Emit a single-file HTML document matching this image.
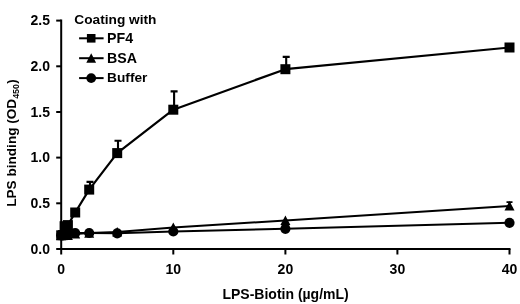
<!DOCTYPE html>
<html><head><meta charset="utf-8"><title>LPS binding</title>
<style>
html,body{margin:0;padding:0;background:#fff;}
svg{display:block;}
text{font-family:"Liberation Sans",sans-serif;font-weight:bold;fill:#000;}
</style></head><body>
<svg width="520" height="304" viewBox="0 0 520 304">
<rect width="520" height="304" fill="#fff"/>
<g stroke="#000" stroke-width="2" fill="none" stroke-linecap="butt">
<path d="M61.2 19.6 V249.0 H510.5"/>
<path d="M56.2 249.0 H61.2"/>
<path d="M56.2 203.3 H61.2"/>
<path d="M56.2 157.6 H61.2"/>
<path d="M56.2 112.0 H61.2"/>
<path d="M56.2 66.3 H61.2"/>
<path d="M56.2 20.6 H61.2"/>
<path d="M61.2 249.0 V254.5"/>
<path d="M173.3 249.0 V254.5"/>
<path d="M285.4 249.0 V254.5"/>
<path d="M397.4 249.0 V254.5"/>
<path d="M509.5 249.0 V254.5"/>
</g>
<text x="50" y="253.8" font-size="14" text-anchor="end">0.0</text>
<text x="50" y="208.1" font-size="14" text-anchor="end">0.5</text>
<text x="50" y="162.4" font-size="14" text-anchor="end">1.0</text>
<text x="50" y="116.8" font-size="14" text-anchor="end">1.5</text>
<text x="50" y="71.1" font-size="14" text-anchor="end">2.0</text>
<text x="50" y="25.4" font-size="14" text-anchor="end">2.5</text>
<text x="61.2" y="274.0" font-size="14" text-anchor="middle">0</text>
<text x="173.3" y="274.0" font-size="14" text-anchor="middle">10</text>
<text x="285.4" y="274.0" font-size="14" text-anchor="middle">20</text>
<text x="397.4" y="274.0" font-size="14" text-anchor="middle">30</text>
<text x="509.5" y="274.0" font-size="14" text-anchor="middle">40</text>
<text x="285.6" y="299.3" font-size="14" text-anchor="middle">LPS-Biotin (µg/mL)</text>
<text transform="translate(15.9 143) rotate(-90)" font-size="13.6" text-anchor="middle">LPS binding (OD<tspan font-size="8.8" dy="2.7">450</tspan><tspan dy="-2.7" dx="0.4">)</tspan></text>
<g stroke="#000" stroke-width="2" fill="none" stroke-linejoin="round">
<polyline points="61.2,235.3 62.9,235.3 64.6,235.3 67.9,235.3 75.2,233.9 89.2,233.1 117.2,231.9 173.3,227.5 285.4,220.4 509.5,205.9" stroke-width="2"/>
<polyline points="61.2,235.3 62.9,235.3 64.6,234.4 67.9,233.5 75.2,233.0 89.2,233.0 117.2,233.3 173.3,231.5 285.4,228.8 509.5,222.8" stroke-width="2"/>
<polyline points="61.2,235.3 62.9,235.1 64.6,226.2 67.9,225.1 75.2,212.5 89.2,189.6 117.2,153.1 173.3,109.7 285.4,69.2 509.5,47.5" stroke-width="2.2"/>
<path d="M90.0 189.6 V181.9 M86.5 181.9 H93.5" stroke-width="2.1"/>
<path d="M118.0 153.1 V140.7 M114.5 140.7 H121.5" stroke-width="2.1"/>
<path d="M174.1 109.7 V91.4 M170.6 91.4 H177.6" stroke-width="2.1"/>
<path d="M286.2 69.2 V56.9 M282.7 56.9 H289.7" stroke-width="2.1"/>
<path d="M509.5 205.9 V202.2 M506.5 202.2 H512.5" stroke-width="1.8"/>
</g>
<g fill="#000">
<path d="M61.2 230.3 L66.2 239.9 H56.2 Z"/>
<path d="M62.9 230.3 L67.9 239.9 H57.9 Z"/>
<path d="M64.6 230.3 L69.6 239.9 H59.6 Z"/>
<path d="M67.9 230.3 L72.9 239.9 H62.9 Z"/>
<path d="M75.2 228.9 L80.2 238.5 H70.2 Z"/>
<path d="M89.2 228.1 L94.2 237.7 H84.2 Z"/>
<path d="M117.2 226.9 L122.2 236.5 H112.2 Z"/>
<path d="M173.3 222.5 L178.3 232.1 H168.3 Z"/>
<path d="M285.4 215.4 L290.4 225.0 H280.4 Z"/>
<path d="M509.5 200.9 L514.5 210.5 H504.5 Z"/>
<circle cx="61.2" cy="235.3" r="5.1"/>
<circle cx="62.9" cy="235.3" r="5.1"/>
<circle cx="64.6" cy="234.4" r="5.1"/>
<circle cx="67.9" cy="233.5" r="5.1"/>
<circle cx="75.2" cy="233.0" r="5.1"/>
<circle cx="89.2" cy="233.0" r="5.1"/>
<circle cx="117.2" cy="233.3" r="5.1"/>
<circle cx="173.3" cy="231.5" r="5.1"/>
<circle cx="285.4" cy="228.8" r="5.1"/>
<circle cx="509.5" cy="222.8" r="5.1"/>
<rect x="56.2" y="230.3" width="10" height="10"/>
<rect x="57.9" y="230.1" width="10" height="10"/>
<rect x="59.6" y="221.2" width="10" height="10"/>
<rect x="62.9" y="220.1" width="10" height="10"/>
<rect x="70.2" y="207.5" width="10" height="10"/>
<rect x="84.2" y="184.6" width="10" height="10"/>
<rect x="112.2" y="148.1" width="10" height="10"/>
<rect x="168.3" y="104.7" width="10" height="10"/>
<rect x="280.4" y="64.2" width="10" height="10"/>
<rect x="504.5" y="42.5" width="10" height="10"/>
</g>
<text x="74.3" y="24.2" font-size="13.7">Coating with</text>
<path d="M79.1 38.3 H103.6" stroke="#000" stroke-width="2"/>
<rect x="86.9" y="34.0" width="8.6" height="8.6"/>
<text x="107.1" y="42.6" font-size="14.2">PF4</text>
<path d="M79.1 58.2 H103.6" stroke="#000" stroke-width="2"/>
<path d="M91.2 53.2 L96.10000000000001 62.8 H86.3 Z"/>
<text x="107.1" y="62.5" font-size="14.2">BSA</text>
<path d="M79.1 78.1 H103.6" stroke="#000" stroke-width="2"/>
<circle cx="91.2" cy="78.1" r="4.9"/>
<text x="107.1" y="82.4" font-size="13.7">Buffer</text>
</svg>
</body></html>
